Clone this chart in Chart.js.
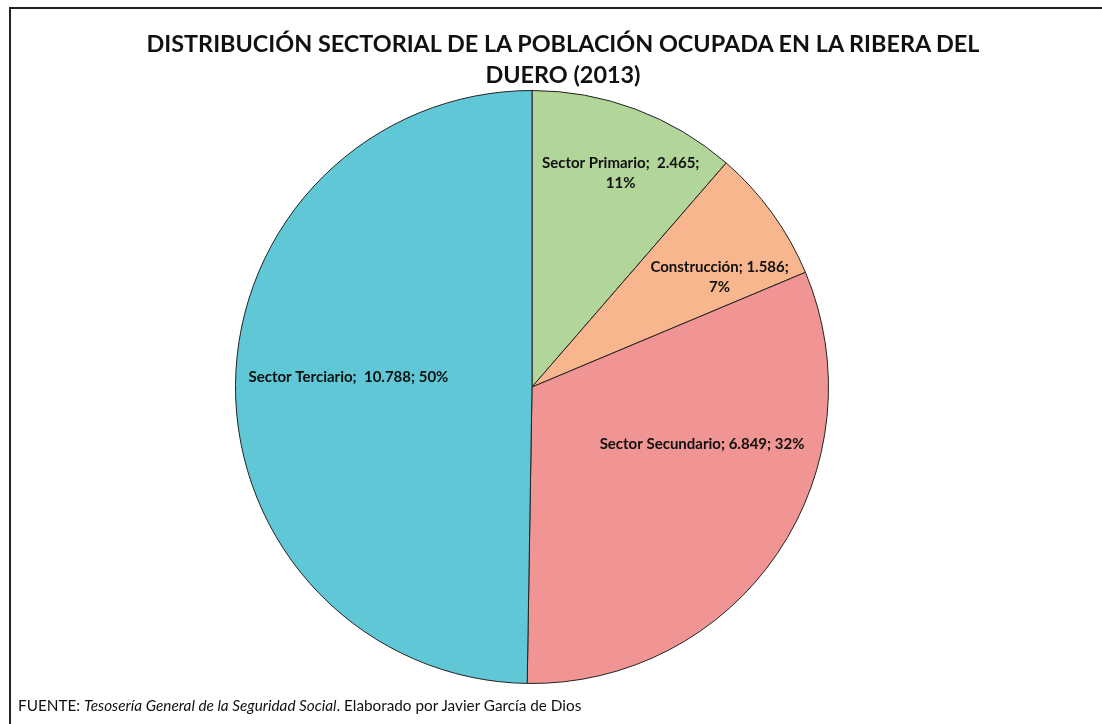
<!DOCTYPE html>
<html>
<head>
<meta charset="utf-8">
<script src="https://cdn.jsdelivr.net/npm/chart.js@4.4.1/dist/chart.umd.min.js"></script>
<style>
  html,body{margin:0;padding:0;background:#fff;}
  #wrap{position:relative;width:1102px;height:724px;overflow:hidden;font-family:Lato, "Open Sans", sans-serif;}
  #frame{position:absolute;left:9px;top:7px;width:1200px;height:800px;border-left:2px solid #222;border-top:2px solid #222;box-sizing:border-box;}
  #c{position:absolute;left:0;top:0;}
  .t{position:absolute;left:0;width:1126px;text-align:center;font-weight:bold;font-size:23.4px;color:#111;white-space:nowrap;}
  #foot{position:absolute;left:18px;top:696px;font-size:15.3px;color:#111;white-space:nowrap;}
</style>
</head>
<body>
<div id="wrap">
  <div id="frame"></div>
  <canvas id="c" width="1102" height="724"></canvas>
  <div class="t" id="t1" style="top:29px;">DISTRIBUCIÓN SECTORIAL DE LA POBLACIÓN OCUPADA EN LA RIBERA DEL</div>
  <div class="t" id="t2" style="top:60px;">DUERO (2013)</div>
  <div id="foot">FUENTE: <i>Tesosería General de la Seguridad Social</i>. Elaborado por Javier García de Dios</div>
</div>
<script>
const categories = ["Sector Primario", "Construcción", "Sector Secundario", "Sector Terciario"];
const values = [2465, 1586, 6849, 10788];
const valueLabels = ["2.465", "1.586", "6.849", "10.788"];
const percentLabels = ["11%", "7%", "32%", "50%"];
const colors = ["#B2D59A", "#F8B68F", "#F19494", "#5FC7D6"];
// label placement (style): radial fraction, angle offset in degrees, split into two lines
const labelRadius = [0.78, 0.733, 0.605, 0.62];
const labelAngleOffset = [2.1, 5.6, -15.5, 2.65];
const labelLines = [
  ["Sector Primario;  2.465;", "11%"],
  ["Construcción; 1.586;", "7%"],
  ["Sector Secundario; 6.849; 32%"],
  ["Sector Terciario;  10.788; 50%"]
];

const labelPlugin = {
  id: 'sliceLabels',
  afterDatasetsDraw(chart) {
    const ctx = chart.ctx;
    const meta = chart.getDatasetMeta(0);
    ctx.save();
    ctx.font = 'bold 15px Lato, "Open Sans", sans-serif';
    ctx.fillStyle = '#111';
    ctx.textAlign = 'center';
    ctx.textBaseline = 'middle';
    meta.data.forEach((arc, i) => {
      const p = arc.getProps(['x','y','startAngle','endAngle','outerRadius']);
      const mid = (p.startAngle + p.endAngle) / 2 + labelAngleOffset[i] * Math.PI / 180;
      const r = p.outerRadius * labelRadius[i];
      const cx = p.x + Math.cos(mid) * r;
      const cy = p.y + Math.sin(mid) * r;
      const lines = labelLines[i];
      const lh = 20;
      lines.forEach((ln, k) => {
        ctx.fillText(ln, cx, cy + (k - (lines.length - 1) / 2) * lh);
      });
    });
    ctx.restore();
  }
};

new Chart(document.getElementById('c'), {
  type: 'pie',
  data: {
    labels: categories,
    datasets: [{
      data: values,
      backgroundColor: colors,
      borderColor: '#222',
      borderWidth: 1,
      hoverOffset: 0
    }]
  },
  options: {
    responsive: false,
    animation: false,
    devicePixelRatio: 1,
    layout: { padding: { top: 90, bottom: 40, left: 235, right: 273 } },
    plugins: { legend: { display: false }, tooltip: { enabled: false } }
  },
  plugins: [labelPlugin]
});
</script>
</body>
</html>
